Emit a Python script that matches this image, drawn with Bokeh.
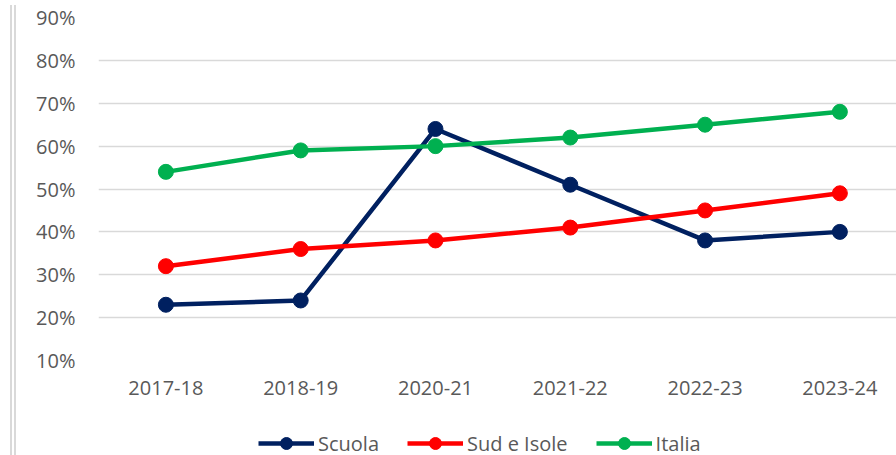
from bokeh.plotting import figure
from bokeh.models import Range1d, FixedTicker, PrintfTickFormatter, Legend, LegendItem, Div
from bokeh.layouts import row, column
from bokeh.embed import file_html
from bokeh.resources import INLINE

years = ["2017-18", "2018-19", "2020-21", "2021-22", "2022-23", "2023-24"]
scuola = [23, 24, 64, 51, 38, 40]
sud_isole = [32, 36, 38, 41, 45, 49]
italia = [54, 59, 60, 62, 65, 68]
y_ticks = [10, 20, 30, 40, 50, 60, 70, 80, 90]

series = [
    ("Scuola", scuola, "#002060"),
    ("Sud e Isole", sud_isole, "#FF0000"),
    ("Italia", italia, "#00B050"),
]

xs = list(range(len(years)))

p = figure(width=877, height=406, output_backend="svg", toolbar_location=None,
           x_range=Range1d(-0.5, 5.435), y_range=Range1d(10, 90),
           min_border_left=77, min_border_right=0, min_border_top=17, min_border_bottom=46)
p.outline_line_color = None
p.background_fill_color = "white"
p.border_fill_color = "white"

p.xgrid.grid_line_color = None
p.ygrid.grid_line_color = "#d9d9d9"
p.ygrid.grid_line_width = 1.5

p.yaxis.ticker = FixedTicker(ticks=y_ticks)
p.yaxis.formatter = PrintfTickFormatter(format="%d%%")
p.xaxis.ticker = FixedTicker(ticks=xs)
p.xaxis.major_label_overrides = {i: y for i, y in enumerate(years)}

for ax in (p.xaxis, p.yaxis):
    ax.axis_line_color = None
    ax.major_tick_line_color = None
    ax.minor_tick_line_color = None
    ax.major_tick_out = 0
    ax.major_tick_in = 0
    ax.major_label_text_font = "Open Sans"
    ax.major_label_text_font_size = "20px"
    ax.major_label_text_color = "#595959"
p.yaxis.major_label_standoff = 23
p.xaxis.major_label_standoff = 20

for name, vals, col in series:
    p.line(xs, vals, line_color=col, line_width=4.5)
    p.scatter(xs, vals, size=15, fill_color=col, line_color=col)

# legend strip below the chart
p2 = figure(width=877, height=49, output_backend="svg", toolbar_location=None,
            x_range=Range1d(100, 101), y_range=Range1d(100, 101),
            x_axis_location=None, y_axis_location=None,
            min_border_left=0, min_border_right=0, min_border_top=0, min_border_bottom=0)
p2.outline_line_color = None
p2.xgrid.visible = False
p2.ygrid.visible = False
p2.border_fill_color = "white"

items = []
for name, vals, col in series:
    r1 = p2.line(xs, vals, line_color=col, line_width=4.5)
    r2 = p2.scatter(xs, vals, size=15, fill_color=col, line_color=col)
    items.append(LegendItem(label=name, renderers=[r1, r2]))

legend = Legend(items=items, location=(160, -3), orientation="horizontal",
                glyph_width=56, glyph_height=30, label_standoff=4, spacing=28,
                padding=0, margin=0, border_line_color=None, background_fill_alpha=0,
                label_text_font="Open Sans", label_text_font_size="20px",
                label_text_color="#595959")
p2.add_layout(legend, "center")

div = Div(text='<div style="margin-left:5px;width:0;height:455px;border-left:6px double #d9d9d9"></div>',
          width=11, height=455)

layout = row(div, column(p, p2))
open("out.html", "w").write(file_html(layout, INLINE))
